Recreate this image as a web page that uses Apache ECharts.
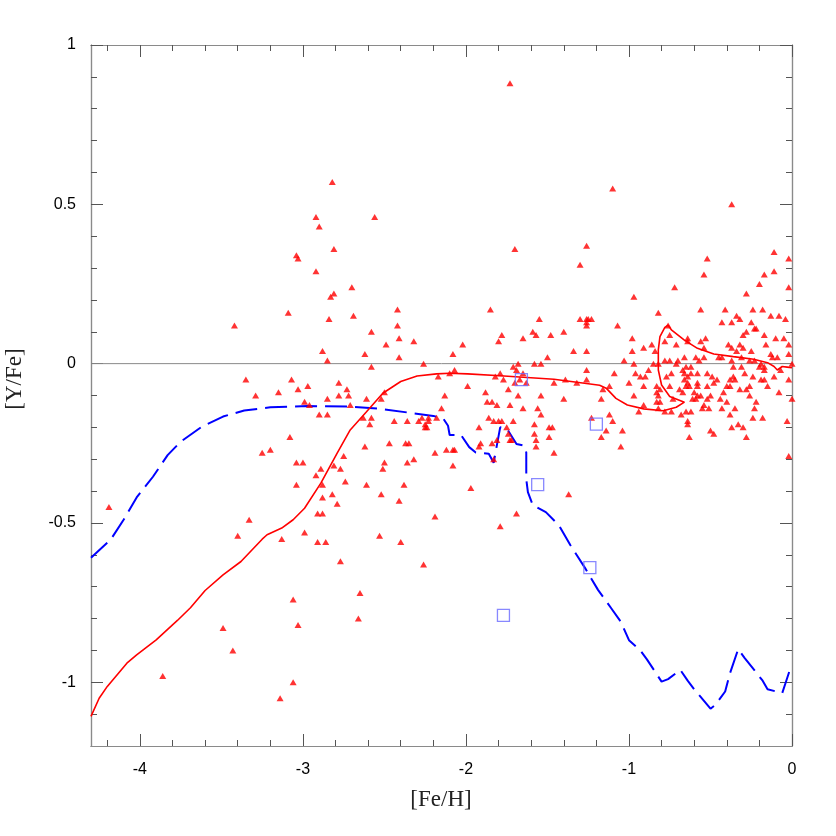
<!DOCTYPE html>
<html>
<head>
<meta charset="utf-8">
<script src="https://cdn.jsdelivr.net/npm/echarts@6/dist/echarts.min.js"></script>
<style>html,body{margin:0;padding:0;background:#fff}#c{width:836px;height:836px}</style>
</head>
<body>
<div id="c"></div>
<script>
// ---- tick values ----
var xMajorTicks = [-4, -3, -2, -1, 0];
var xMinorTicks = [-4.2, -3.8, -3.6, -3.4, -3.2, -2.8, -2.6, -2.4, -2.2, -1.8, -1.6, -1.4, -1.2, -0.8, -0.6, -0.4, -0.2];
var yMajorTicks = [-1, -0.5, 0, 0.5, 1];
var yMinorTicks = [-1.1, -0.9, -0.8, -0.7, -0.6, -0.4, -0.3, -0.2, -0.1, 0.1, 0.2, 0.3, 0.4, 0.6, 0.7, 0.8, 0.9];

// ---- observed stars [Fe/H], [Y/Fe] (red triangles) ----
var starsLeft = [
[-1.73,0.88],
[-2.82,0.57],[-2.92,0.46],[-2.56,0.46],[-2.90,0.43],[-2.81,0.36],[-3.04,0.34],[-3.03,0.33],[-2.92,0.29],[-2.70,0.24],[-2.81,0.22],[-2.83,0.21],[-3.09,0.16],[-2.84,0.14],[-2.69,0.15],[-2.42,0.17],[-2.42,0.12],[-2.58,0.10],[-2.41,0.08],[-2.49,0.06],[-2.32,0.07],[-2.88,0.04],[-2.85,0.01],[-2.62,0.03],[-2.41,0.02],[-2.26,0.00],[-2.58,-0.01],[-3.07,-0.05],[-2.78,-0.06],[-3.15,-0.09],[-3.03,-0.08],[-2.97,-0.07],[-2.73,-0.08],[-3.29,-0.10],[-2.85,-0.11],[-2.78,-0.10],[-2.72,-0.10],[-2.61,-0.11],[-2.52,-0.11],[-2.50,-0.09],[-2.99,-0.12],[-2.96,-0.13],[-2.71,-0.13],[-2.17,-0.04],[-2.13,-0.10],[-2.15,-0.14],
[-3.42,0.12],[-3.35,-0.05],
[-2.90,-0.16],[-2.85,-0.16],[-2.63,-0.17],[-2.58,-0.17],[-2.59,-0.19],[-2.44,-0.18],[-2.36,-0.18],[-2.29,-0.18],[-2.27,-0.17],[-2.25,-0.19],[-2.25,-0.20],[-2.23,-0.17],[-2.23,-0.18],[-2.18,-0.17],
[-3.08,-0.23],[-3.25,-0.28],[-3.20,-0.27],[-3.04,-0.31],[-3.00,-0.31],[-2.89,-0.33],[-2.92,-0.35],[-3.04,-0.38],[-2.88,-0.38],[-2.88,-0.42],[-2.91,-0.47],[-2.88,-0.47],[-2.82,-0.41],[-2.81,-0.32],[-2.77,-0.33],[-2.75,-0.29],[-2.74,-0.37],[-2.79,-0.44],[-2.62,-0.26],[-2.61,-0.38],[-2.52,-0.41],[-2.51,-0.33],[-2.50,-0.31],[-2.47,-0.25],[-2.37,-0.25],[-2.35,-0.25],[-2.36,-0.31],[-2.32,-0.30],[-2.38,-0.38],[-2.41,-0.43],[-2.19,-0.28],[-2.12,-0.27],[-2.19,-0.48],
[-3.33,-0.49],[-3.40,-0.54],[-3.13,-0.55],[-2.99,-0.53],[-2.91,-0.56],[-2.86,-0.56],[-2.53,-0.54],[-2.40,-0.56],[-2.77,-0.62],[-2.26,-0.63],[-3.06,-0.74],[-2.65,-0.72],[-2.66,-0.80],[-3.03,-0.82],[-3.49,-0.83],
[-4.19,-0.45],[-3.43,-0.90],[-3.86,-0.98],[-3.06,-1.00],[-3.14,-1.05]
];
var starsMid = [
[-1.70,0.36],[-1.26,0.37],[-1.30,0.31],[-1.85,0.17],[-1.55,0.14],[-1.30,0.14],[-1.26,0.14],[-1.25,0.14],[-1.23,0.14],[-1.26,0.13],[-1.26,0.12],[-1.07,0.12],[-1.78,0.09],[-1.80,0.07],[-1.59,0.10],[-1.57,0.09],[-1.65,0.08],[-1.48,0.09],[-1.40,0.10],[-2.02,0.06],[-2.08,0.03],[-1.34,0.04],[-1.26,0.04],[-1.50,0.02],[-1.71,-0.01],[-1.68,0.00],[-1.58,0.00],[-1.54,0.00],[-1.69,-0.02],[-1.65,-0.03],[-2.07,-0.02],[-2.10,-0.03],[-1.26,-0.02],[-1.09,-0.03],[-1.79,-0.03],[-1.82,-0.04],[-1.77,-0.05],[-1.70,-0.06],[-1.67,-0.05],[-1.63,-0.06],[-1.46,-0.06],[-1.39,-0.05],[-1.32,-0.06],[-1.26,-0.05],[-1.12,-0.07],[-1.99,-0.07],[-1.74,-0.08],[-1.88,-0.09],[-1.68,-0.10],[-1.54,-0.10],[-1.40,-0.11],[-1.17,-0.11],[-1.87,-0.12],[-1.84,-0.12],[-1.81,-0.13],[-1.73,-0.13],[-1.65,-0.14],[-1.56,-0.14],[-1.54,-0.16],[-1.86,-0.17],[-1.83,-0.18],[-1.80,-0.18],[-1.78,-0.18],[-1.71,-0.18],[-1.58,-0.19],[-1.49,-0.20],[-1.47,-0.20],[-1.92,-0.20],[-1.75,-0.20],[-1.12,-0.16],[-1.10,-0.18],[-1.23,-0.17],[-1.14,-0.21],[-1.17,-0.23],[-1.58,-0.22],[-1.57,-0.24],[-1.49,-0.23],[-1.91,-0.25],[-1.84,-0.25],[-1.81,-0.24],[-1.73,-0.24],[-1.72,-0.24],[-1.57,-0.26],[-1.92,-0.26],
[-2.08,-0.27],[-2.07,-0.27],[-2.08,-0.32],[-1.83,-0.30],[-1.74,-0.22],[-1.46,-0.28],[-1.05,-0.26],[-1.97,-0.39],[-2.24,-0.20],
[-1.79,-0.51],[-1.69,-0.47],[-1.37,-0.41]
];
var starsRight = [
[-1.10,0.55],[-0.37,0.50],
[-0.11,0.35],[-0.02,0.33],[-0.52,0.33],[-0.11,0.29],[-0.17,0.28],[-0.54,0.28],[-0.20,0.25],[-0.02,0.24],[-0.72,0.24],[-0.28,0.22],[-0.97,0.21],[-0.56,0.17],[-0.41,0.17],[-0.24,0.17],[-0.18,0.17],[-0.82,0.16],[-0.34,0.15],[-0.32,0.14],[-0.43,0.13],[-0.37,0.13],[-0.25,0.13],[-0.13,0.15],[-0.08,0.15],[-0.04,0.14],
[-0.28,0.10],[-0.23,0.11],[-0.22,0.11],[-0.30,0.09],[-0.17,0.09],[-0.10,0.08],[-0.05,0.08],[-0.76,0.12],[-0.75,0.09],[-0.64,0.08],[-0.53,0.08],[-0.56,0.07],[-0.64,0.07],[-0.98,0.08],[-0.91,0.05],[-0.86,0.06],[-0.78,0.07],[-0.71,0.06],[-0.84,0.04],[-0.98,0.04],[-0.54,0.05],[-0.39,0.06],[-0.37,0.05],[-0.32,0.06],[-0.30,0.05],[-0.34,0.04],[-0.16,0.06],[-0.02,0.06],[-0.25,0.04],[-0.13,0.03],[-0.09,0.02],[-0.12,0.02],[-0.02,0.03],
[-1.03,0.01],[-0.78,0.01],[-0.75,0.01],[-0.70,0.01],[-0.71,0.00],[-0.66,0.02],[-0.59,0.02],[-0.57,0.01],[-0.54,0.02],[-0.45,0.02],[-0.43,0.02],[-0.37,0.01],[-0.31,0.02],[-0.26,0.01],[-0.23,0.01],[-0.97,0.00],[-0.85,0.00],[-0.82,0.00],[-0.19,0.00],[-0.17,-0.01],[0.00,0.00],[-0.07,-0.02],
[-0.96,-0.03],[-0.93,-0.04],[-0.90,-0.04],[-0.88,-0.02],[-0.77,-0.04],[-0.74,-0.03],[-0.67,-0.02],[-0.66,-0.03],[-0.65,-0.01],[-0.62,-0.01],[-0.64,-0.04],[-0.64,-0.06],[-0.62,-0.03],[-0.66,-0.05],[-0.58,-0.03],[-0.52,-0.03],[-0.49,-0.04],[-0.46,-0.05],[-0.36,-0.01],[-0.31,-0.01],[-0.38,-0.05],[-0.36,-0.04],[-0.35,-0.05],[-0.29,-0.03],[-0.24,-0.04],[-0.19,-0.05],[-0.17,-0.05],[-0.20,-0.01],[-0.17,-0.02],[-0.11,-0.04],[-0.02,-0.05],
[-1.00,-0.06],[-0.91,-0.07],[-0.83,-0.07],[-0.81,-0.08],[-0.75,-0.07],[-0.69,-0.08],[-0.67,-0.09],[-0.65,-0.07],[-0.63,-0.07],[-0.58,-0.06],[-0.58,-0.07],[-0.52,-0.07],[-0.48,-0.06],[-0.40,-0.07],[-0.38,-0.07],[-0.32,-0.08],[-0.28,-0.08],[-0.26,-0.07],[-0.15,-0.07],[-1.16,-0.08],[-0.97,-0.10],[-0.83,-0.09],[-0.82,-0.10],[-0.60,-0.09],[-0.58,-0.10],[-0.56,-0.10],[-0.50,-0.10],[-0.42,-0.09],[-0.26,-0.10],[-0.08,-0.09],[-0.61,-0.11],[-0.59,-0.11],[-0.52,-0.11],[-0.44,-0.11],[0.00,-0.11],[-0.73,-0.11],[-0.83,-0.12],[-0.81,-0.12],[-0.91,-0.13],[-0.94,-0.15],[-0.82,-0.14],[-0.78,-0.15],[-0.74,-0.15],[-0.68,-0.16],[-0.65,-0.15],[-0.62,-0.15],[-0.55,-0.14],[-0.51,-0.14],[-0.54,-0.13],[-0.40,-0.12],[-0.35,-0.14],[-0.22,-0.12],[-0.23,-0.14],[-0.43,-0.14],
[-0.38,-0.16],[-0.24,-0.17],[-0.18,-0.17],[-0.64,-0.18],[-0.64,-0.19],[-0.33,-0.19],[-0.30,-0.20],[-0.37,-0.20],[-0.03,-0.18],[-0.50,-0.21],[-0.48,-0.22],[-1.04,-0.21],[-0.63,-0.23],[-0.28,-0.23],[-0.02,-0.29]
];

// ---- other observations (blue open squares) ----
var squares = [[-1.66,-0.05],[-1.20,-0.19],[-1.56,-0.38],[-1.24,-0.64],[-1.77,-0.79]];

// ---- model curves ----
var modelRed = [
[-4.30,-1.107],[-4.25,-1.05],[-4.20,-1.013],[-4.08,-0.94],[-4.02,-0.914],[-3.90,-0.867],[-3.77,-0.806],[-3.69,-0.766],[-3.60,-0.712],[-3.49,-0.663],[-3.38,-0.621],[-3.25,-0.551],[-3.22,-0.537],[-3.13,-0.516],[-3.06,-0.49],[-2.99,-0.454],[-2.89,-0.375],[-2.79,-0.281],[-2.71,-0.208],[-2.61,-0.151],[-2.51,-0.093],[-2.40,-0.056],[-2.30,-0.039],[-2.18,-0.032],[-2.10,-0.030],[-1.99,-0.032],[-1.79,-0.038],[-1.46,-0.049],[-1.18,-0.068],[-1.14,-0.077],[-1.08,-0.109],[-1.01,-0.13],[-0.91,-0.142],[-0.79,-0.148],[-0.71,-0.137],[-0.66,-0.121],[-0.75,-0.103],[-0.80,-0.067],[-0.82,-0.02],[-0.82,0.043],[-0.81,0.085],[-0.78,0.114],[-0.76,0.121],[-0.74,0.106],[-0.66,0.074],[-0.58,0.048],[-0.48,0.030],[-0.36,0.022],[-0.235,0.014],[-0.15,0.003],[-0.11,-0.009],[-0.09,-0.02],[-0.06,-0.009],[-0.03,-0.011],[0,-0.013]
];
var modelBlue = [
[-4.30,-0.609],[-4.18,-0.553],[-4.10,-0.49],[-4.02,-0.42],[-3.92,-0.355],[-3.83,-0.287],[-3.75,-0.245],[-3.62,-0.198],[-3.49,-0.166],[-3.36,-0.147],[-3.20,-0.137],[-2.97,-0.133],[-2.71,-0.135],[-2.52,-0.142],[-2.32,-0.156],[-2.20,-0.164],[-2.14,-0.172],[-2.11,-0.195],[-2.10,-0.224],[-2.03,-0.224],[-1.98,-0.262],[-1.94,-0.279],[-1.86,-0.283],[-1.83,-0.311],[-1.79,-0.20],[-1.75,-0.203],[-1.69,-0.252],[-1.64,-0.258],[-1.63,-0.279],[-1.63,-0.363],[-1.62,-0.403],[-1.59,-0.444],[-1.51,-0.466],[-1.43,-0.507],[-1.36,-0.569],[-1.27,-0.641],[-1.19,-0.71],[-1.11,-0.767],[-1.05,-0.81],[-1.00,-0.868],[-0.93,-0.90],[-0.89,-0.928],[-0.80,-0.998],[-0.76,-0.99],[-0.685,-0.961],[-0.64,-0.995],[-0.60,-1.022],[-0.50,-1.083],[-0.47,-1.071],[-0.41,-1.029],[-0.38,-0.971],[-0.33,-0.896],[-0.29,-0.924],[-0.18,-0.995],[-0.15,-1.022],[-0.06,-1.034],[-0.04,-1.003],[-0.01,-0.956],[0,-0.945]
];

var stars = starsLeft.concat(starsMid, starsRight);

var chart = echarts.init(document.getElementById('c'), null, {renderer: 'canvas'});

var axisCol = '#8a8a8a';
var tickCol = '#555';
function xAx(pos, vals, len, labels) {
  return {
    type: 'value', min: -4.3, max: 0, position: pos,
    axisLine: {show: true, onZero: false, lineStyle: {color: axisCol, width: 1.2}},
    axisTick: {show: true, inside: true, length: len, customValues: vals, lineStyle: {color: tickCol, width: 1}},
    axisLabel: labels ? {show: true, customValues: vals, fontSize: 16, color: '#000', margin: 16, fontFamily: 'Liberation Sans'} : {show: false},
    splitLine: {show: false}, minorTick: {show: false}
  };
}
function yAx(pos, vals, len, labels) {
  return {
    type: 'value', min: -1.2, max: 1, position: pos,
    axisLine: {show: true, onZero: false, lineStyle: {color: axisCol, width: 1.2}},
    axisTick: {show: true, inside: true, length: len, customValues: vals, lineStyle: {color: tickCol, width: 1}},
    axisLabel: labels ? {show: true, customValues: vals, fontSize: 16, color: '#000', margin: 15, fontFamily: 'Liberation Sans'} : {show: false},
    splitLine: {show: false}, minorTick: {show: false}
  };
}

chart.setOption({
  animation: false,
  backgroundColor: '#fff',
  grid: {left: 91, right: 44, top: 45, bottom: 90, containLabel: false},
  xAxis: [
    xAx('bottom', xMajorTicks, 12, true),
    xAx('bottom', xMinorTicks, 6, false),
    xAx('top', xMajorTicks, 12, false),
    xAx('top', xMinorTicks, 6, false)
  ],
  yAxis: [
    yAx('left', yMajorTicks, 12, true),
    yAx('left', yMinorTicks, 6, false),
    yAx('right', yMajorTicks, 12, false),
    yAx('right', yMinorTicks, 6, false)
  ],
  graphic: [
    {type: 'text', x: 441, y: 800, style: {text: '[Fe/H]', font: '23px "Liberation Serif"', fill: '#222', textAlign: 'center', textVerticalAlign: 'middle'}},
    {type: 'text', x: 15, y: 379, rotation: Math.PI / 2, style: {text: '[Y/Fe]', font: '23px "Liberation Serif"', fill: '#222', textAlign: 'center', textVerticalAlign: 'middle'}}
  ],
  series: [
    {
      type: 'line', name: 'zero', data: [[-4.3, 0], [0, 0]], showSymbol: false, symbol: 'none',
      lineStyle: {color: '#8a8a8a', width: 1}, z: 1, silent: true
    },
    {
      type: 'line', name: 'model dashed', data: modelBlue, showSymbol: false, symbol: 'none', smooth: false,
      lineStyle: {color: '#0000ff', width: 2, type: [22, 8]}, z: 2, silent: true
    },
    {
      type: 'scatter', name: 'stars', data: stars, symbol: 'triangle', symbolSize: [7, 6],
      itemStyle: {color: '#ff0000'}, z: 3, silent: true
    },
    {
      type: 'line', name: 'model', data: modelRed, showSymbol: false, symbol: 'none', smooth: false,
      lineStyle: {color: '#ff0000', width: 1.6}, z: 4, silent: true
    },
    {
      type: 'scatter', name: 'squares', data: squares, symbol: 'rect', symbolSize: 12,
      itemStyle: {color: 'rgba(0,0,0,0)', borderColor: '#6a6aff', borderWidth: 1.3}, z: 5, silent: true
    }
  ]
});
</script>
</body>
</html>
